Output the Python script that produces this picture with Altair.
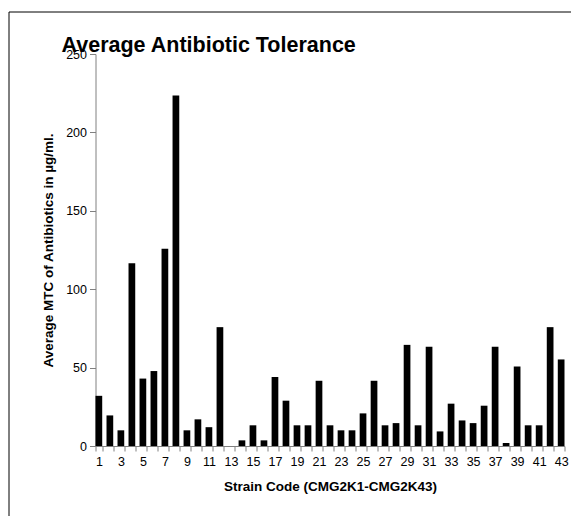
import altair as alt
import pandas as pd

strains = list(range(1, 44))
mtc = [32, 19.5, 10, 116.5, 43, 47.8, 125.8, 223.5, 10, 17, 12, 75.8, 0, 3.6,
       13.2, 3.6, 44, 28.9, 13.2, 13.2, 41.6, 13.2, 10, 10, 20.8, 41.6, 13.2,
       14.6, 64.5, 13.2, 63.3, 9.3, 27, 16.3, 14.6, 25.7, 63.3, 1.9, 50.7,
       13.2, 13.2, 75.8, 55.2]
y_ticks = [0, 50, 100, 150, 200, 250]

df = pd.DataFrame({"strain": strains, "mtc": mtc})
FONT = "Liberation Sans"
GREY = "#808080"

bars = alt.Chart(df).mark_bar(color="black").encode(
    x=alt.X("strain:O", sort=strains,
            scale=alt.Scale(paddingInner=0.39, paddingOuter=0),
            axis=alt.Axis(title="Strain Code (CMG2K1-CMG2K43)",
                          labelAngle=0, labelExpr="datum.value % 2 == 1 ? datum.label : ''",
                          tickBand="extent", tickSize=5, tickColor=GREY,
                          domainColor=GREY, labelFontSize=12.5, labelFont=FONT,
                          labelColor="black", labelPadding=4,
                          titleFont=FONT, titleFontSize=13.5, titleFontWeight="bold",
                          titlePadding=12, titleColor="black", grid=False)),
    y=alt.Y("mtc:Q", scale=alt.Scale(domain=[0, 250], nice=False),
            axis=alt.Axis(title="Average MTC of Antibiotics in µg/ml.",
                          values=y_ticks, tickSize=6, tickColor=GREY,
                          domainColor=GREY, labelFontSize=12.5, labelFont=FONT,
                          labelColor="black", labelPadding=3,
                          titleFont=FONT, titleFontSize=13.5, titleFontWeight="bold",
                          titlePadding=10, titleColor="black", grid=False)),
)

one = alt.Chart(df).transform_filter("datum.strain == 1")
frame_top = one.mark_rule(color="black", strokeWidth=1).encode(
    x=alt.value(-86.5), x2=alt.value(700), y=alt.value(-42)
)
frame_left = one.mark_rule(color="black", strokeWidth=1).encode(
    x=alt.value(-86.5), y=alt.value(-42), y2=alt.value(700)
)

chart = alt.layer(bars, frame_top, frame_left).properties(
    width=469, height=392,
    title=alt.TitleParams("Average Antibiotic Tolerance", anchor="start",
                          frame="group", dx=-34, dy=41, offset=-4, font=FONT,
                          fontSize=21.5, fontWeight="bold", color="black"),
    autosize=alt.AutoSizeParams(type="none"),
    padding={"left": 87.5, "top": 46, "right": 6, "bottom": 70},
).configure_view(stroke=None)

chart.save("out.html", embed_options={"renderer": "svg", "actions": False})
